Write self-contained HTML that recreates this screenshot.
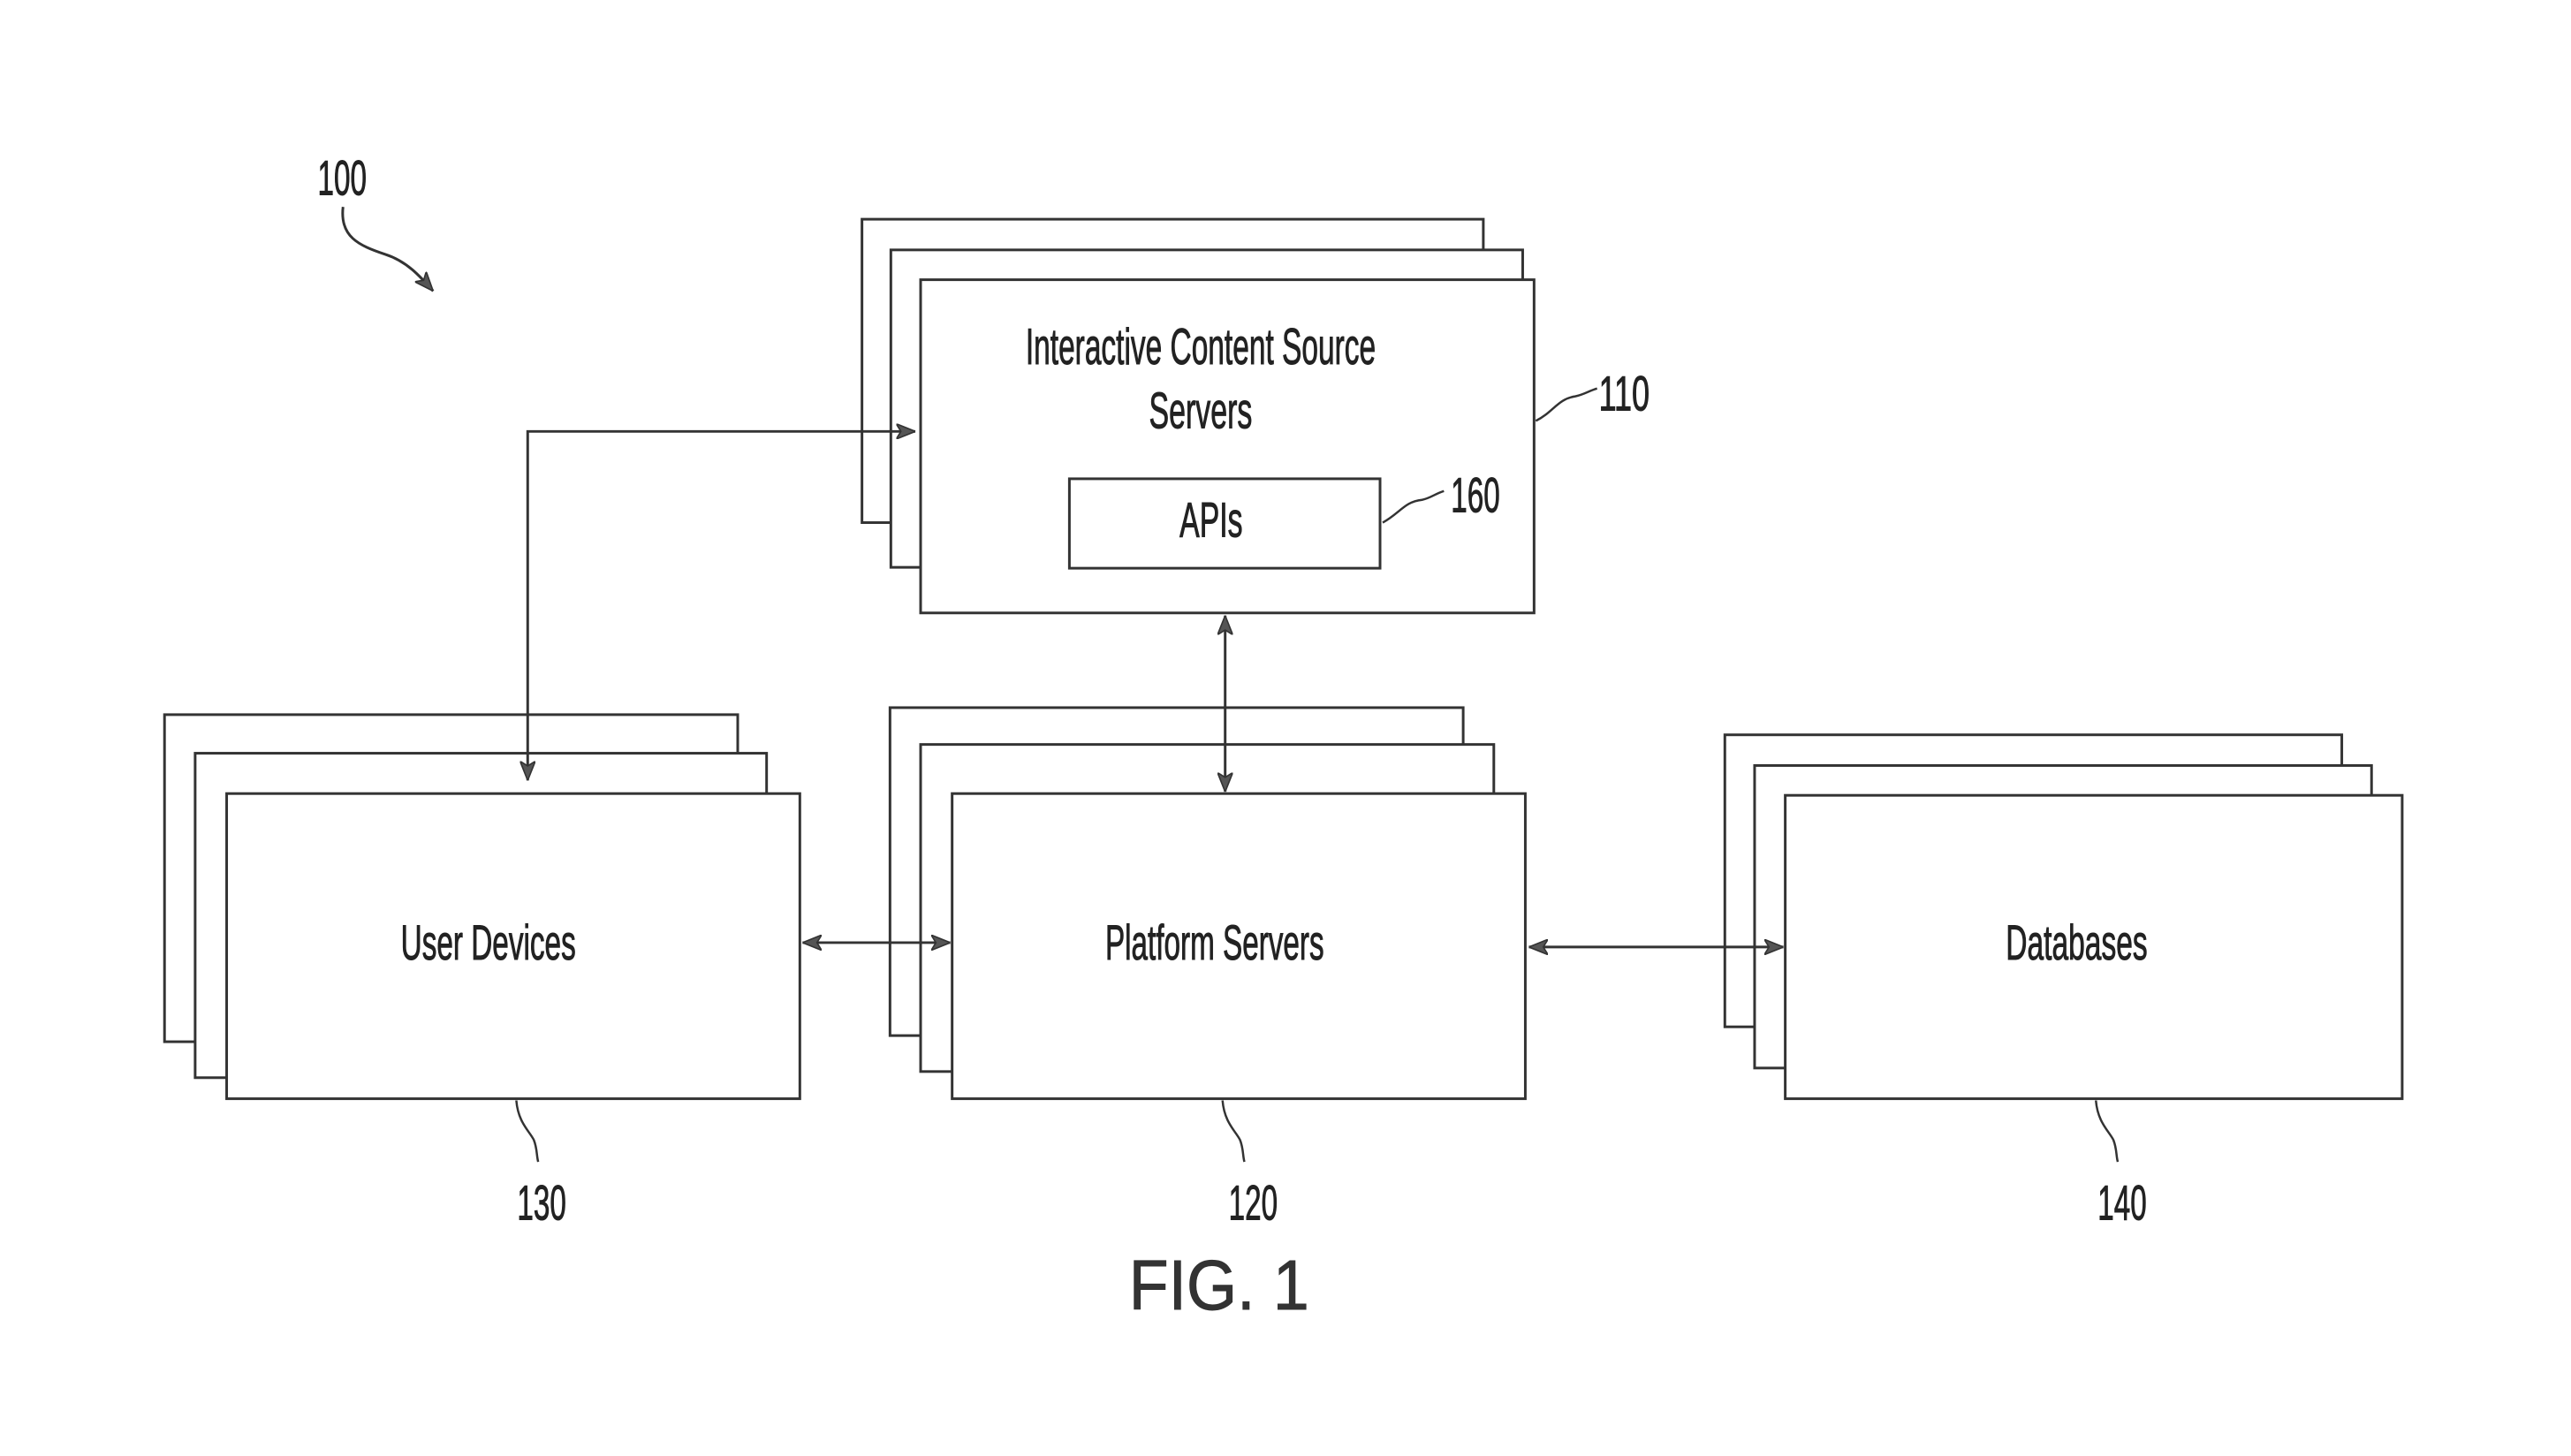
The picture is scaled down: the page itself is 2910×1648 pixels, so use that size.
<!DOCTYPE html>
<html><head><meta charset="utf-8"><style>html,body{margin:0;padding:0;background:#fff}svg{display:block}</style></head>
<body>
<svg width="2910" height="1648" viewBox="0 0 2910 1648" xmlns="http://www.w3.org/2000/svg" font-family="Liberation Sans, sans-serif" fill="none" stroke="#333" stroke-width="3">
<defs>
<marker id="b" viewBox="0 0 20 16" refX="20" refY="8" markerWidth="22" markerHeight="18" orient="auto-start-reverse" markerUnits="userSpaceOnUse"><path d="M0,0 L20,8 L0,16 L5,8 Z" fill="#555" stroke="#333" stroke-width="1.5"/></marker>
</defs>
<g transform="scale(0.9905 0.9925)">
<g fill="#fff">
<rect x="985" y="250" width="710" height="346"/>
<rect x="1018" y="285" width="722" height="362"/>
<rect x="1052" y="319" width="701" height="380"/>
<rect x="1222" y="546" width="355" height="102"/>
<rect x="188" y="815" width="655" height="373"/>
<rect x="223" y="859" width="653" height="370"/>
<rect x="259" y="905" width="655" height="348"/>
<rect x="1017" y="807" width="655" height="374"/>
<rect x="1052" y="849" width="655" height="373"/>
<rect x="1088" y="905" width="655" height="348"/>
<rect x="1971" y="838" width="705" height="333"/>
<rect x="2005" y="873" width="705" height="345"/>
<rect x="2040" y="907" width="705" height="346"/>
</g>
<polyline points="603,890 603,492 1046,492" marker-start="url(#b)" marker-end="url(#b)"/>
<line x1="1400" y1="702" x2="1400" y2="903" marker-start="url(#b)" marker-end="url(#b)"/>
<line x1="917" y1="1075" x2="1086" y2="1075" marker-start="url(#b)" marker-end="url(#b)"/>
<line x1="1747" y1="1080" x2="2038" y2="1080" marker-start="url(#b)" marker-end="url(#b)"/>
<path d="M1755,480 C1775,470 1780,455 1800,452 C1810,450 1815,446 1825,443" stroke-width="2.5"/>
<path d="M1580,596 C1600,585 1605,572 1625,570 C1635,568 1640,563 1650,560" stroke-width="2.5"/>
<path d="M590,1255 C592,1280 605,1290 610,1300 C614,1310 613,1318 615,1325" stroke-width="2.5"/>
<path d="M1397,1255 C1399,1280 1412,1290 1417,1300 C1421,1310 1420,1318 1422,1325" stroke-width="2.5"/>
<path d="M2395,1255 C2397,1280 2410,1290 2415,1300 C2419,1310 2418,1318 2420,1325" stroke-width="2.5"/>
<path d="M392,236 C388,270 410,280 440,290 C465,298 480,315 495,332" stroke-width="3" marker-end="url(#b)"/>
<g fill="#222" stroke="#222" stroke-width="1">
<text x="1372" y="415" font-size="58" text-anchor="middle" textLength="400" lengthAdjust="spacingAndGlyphs">Interactive Content Source</text>
<text x="1372" y="488" font-size="58" text-anchor="middle" textLength="118" lengthAdjust="spacingAndGlyphs">Servers</text>
<text x="1384" y="612" font-size="56" text-anchor="middle" textLength="72" lengthAdjust="spacingAndGlyphs">APIs</text>
<text x="558" y="1094" font-size="56" text-anchor="middle" textLength="200" lengthAdjust="spacingAndGlyphs">User Devices</text>
<text x="1388" y="1094" font-size="56" text-anchor="middle" textLength="250" lengthAdjust="spacingAndGlyphs">Platform Servers</text>
<text x="2373" y="1094" font-size="56" text-anchor="middle" textLength="162" lengthAdjust="spacingAndGlyphs">Databases</text>
<text x="1856" y="468" font-size="56" text-anchor="middle" textLength="58" lengthAdjust="spacingAndGlyphs">110</text>
<text x="1686" y="584" font-size="56" text-anchor="middle" textLength="56" lengthAdjust="spacingAndGlyphs">160</text>
<text x="619" y="1391" font-size="56" text-anchor="middle" textLength="56" lengthAdjust="spacingAndGlyphs">130</text>
<text x="1432" y="1391" font-size="56" text-anchor="middle" textLength="56" lengthAdjust="spacingAndGlyphs">120</text>
<text x="2425" y="1391" font-size="56" text-anchor="middle" textLength="56" lengthAdjust="spacingAndGlyphs">140</text>
<text x="391" y="222" font-size="56" text-anchor="middle" textLength="56" lengthAdjust="spacingAndGlyphs">100</text>
<text x="1393" y="1493" font-size="80" text-anchor="middle" textLength="206" lengthAdjust="spacingAndGlyphs" fill="#333" stroke="#333">FIG. 1</text>
</g>
</g>
</svg>
</body></html>
